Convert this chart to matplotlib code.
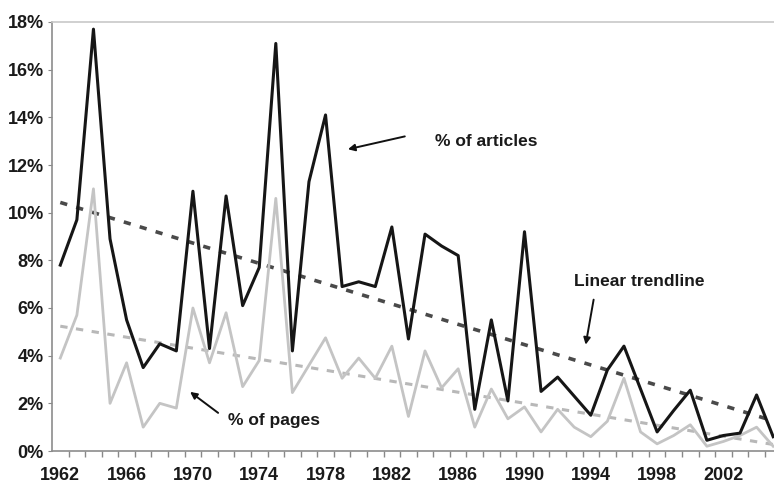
import numpy as np
import matplotlib
matplotlib.use("Agg")
import matplotlib.pyplot as plt
from matplotlib.ticker import FixedLocator, FuncFormatter

plt.rcParams['font.family'] = ['Liberation Sans', 'DejaVu Sans']

# data (percent)
years = list(range(1962, 2006))
articles = [7.8, 9.7, 17.7, 8.9, 5.5, 3.5, 4.5, 4.2, 10.9, 4.3,
            10.7, 6.1, 7.7, 17.1, 4.2, 11.3, 14.1, 6.9, 7.1, 6.9,
            9.4, 4.7, 9.1, 8.6, 8.2, 1.75, 5.5, 2.1, 9.2, 2.5,
            3.1, 2.3, 1.5, 3.4, 4.4, 2.6, 0.8, 1.7, 2.55, 0.45,
            0.65, 0.75, 2.35, 0.6]
pages = [3.9, 5.7, 11.0, 2.0, 3.7, 1.0, 2.0, 1.8, 6.0, 3.7,
         5.8, 2.7, 3.8, 10.6, 2.45, 3.6, 4.75, 3.05, 3.9, 3.05,
         4.4, 1.45, 4.2, 2.65, 3.45, 1.0, 2.6, 1.35, 1.85, 0.8,
         1.75, 1.0, 0.6, 1.25, 3.05, 0.8, 0.3, 0.65, 1.1, 0.2,
         0.4, 0.65, 1.0, 0.2]
year_labels = list(range(1962, 2003, 4))

x = np.array(years)

fig = plt.figure(figsize=(7.74, 4.83), dpi=100)
ax = fig.add_axes([52 / 774, 1 - 451 / 483, 1 - 52 / 774, (451 - 22) / 483])

# linear trendlines fitted on the series
fit_a = np.polyfit(x, articles, 1)
fit_p = np.polyfit(x, pages, 1)
ax.plot(x, np.polyval(fit_a, x), color='#4a4a4a', lw=2.6, ls=(0, (2.0, 2.6)), zorder=2)
ax.plot(x, np.polyval(fit_p, x), color='#b8b8b8', lw=2.2, ls=(0, (2.4, 2.8)), zorder=2)

ax.plot(x, pages, color='#c4c4c4', lw=2.0, zorder=3)
ax.plot(x, articles, color='#161616', lw=2.2, zorder=4)

ax.set_xlim(1961.5, 2005.05)
ax.set_ylim(0, 18)

ax.xaxis.set_major_locator(FixedLocator(year_labels))
ax.xaxis.set_minor_locator(FixedLocator([y + 0.5 for y in years[:-1]]))
ax.tick_params(axis='x', which='major', length=0, pad=11.5, labelsize=13)
ax.tick_params(axis='x', which='minor', length=4, width=1, color='#888888', direction='out')
ax.set_yticks(range(0, 19, 2))
ax.yaxis.set_major_formatter(FuncFormatter(lambda v, p: f"{int(v)}%"))
ax.tick_params(axis='y', length=3, color='#888888', pad=3, labelsize=13)
for lab in ax.get_xticklabels() + ax.get_yticklabels():
    lab.set_fontweight('bold')
    lab.set_color('#1a1a1a')

for side in ['left', 'bottom']:
    ax.spines[side].set_color('#8c8c8c')
    ax.spines[side].set_linewidth(1.2)
ax.spines['top'].set_color('#c8c8c8')
ax.spines['top'].set_linewidth(1.2)
ax.spines['right'].set_visible(False)

txt = dict(fontsize=12.5, fontweight='bold', va='center', ha='left', color='#1a1a1a')
arrow = dict(arrowstyle='-|>', color='#111111', lw=1.4, mutation_scale=10, shrinkA=0, shrinkB=0)
ax.annotate('', xy=(1979.35, 12.66), xytext=(1982.78, 13.2), arrowprops=arrow)
ax.text(1984.6, 13.0, '% of articles', **txt)
ax.annotate('', xy=(1993.69, 4.46), xytext=(1994.17, 6.35), arrowprops=arrow)
ax.text(1993.0, 7.1, 'Linear trendline', **txt)
ax.annotate('', xy=(1969.83, 2.48), xytext=(1971.52, 1.6), arrowprops=arrow)
ax.text(1972.1, 1.3, '% of pages', **txt)

fig.savefig('out.png', dpi=100)
